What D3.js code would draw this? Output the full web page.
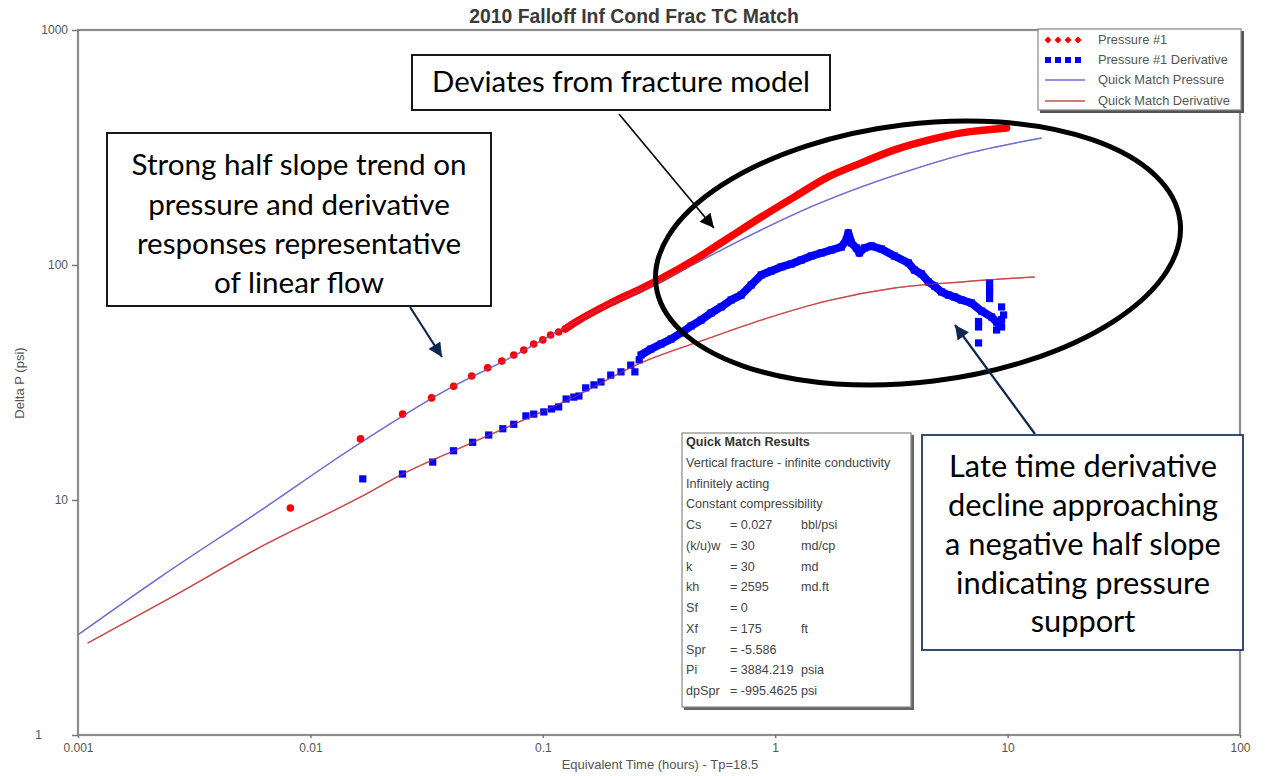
<!DOCTYPE html>
<html><head><meta charset="utf-8">
<script src="https://cdn.jsdelivr.net/npm/d3@7"></script>
<style>
html,body{margin:0;padding:0;background:#fff;}
svg{display:block;}
</style>
</head><body>
<svg id="chart" width="1267" height="776"></svg>
<script>
// ---------------- DATA ----------------
const chartTitle = "2010 Falloff Inf Cond Frac TC Match";
const xLabel = "Equivalent Time (hours) - Tp=18.5";
const yLabel = "Delta P (psi)";
const xTicks = [0.001, 0.01, 0.1, 1, 10, 100];
const xTickLabels = ["0.001", "0.01", "0.1", "1", "10", "100"];
const yTicks = [1, 10, 100, 1000];
const yTickLabels = ["1", "10", "100", "1000"];

// Pressure #1 (measured, early sparse points) [time h, dP psi]
const pressureSparse = [[0.0082,9.25],[0.01643,18.2],[0.02493,23.2],[0.03322,27.2],[0.04133,30.5],[0.04943,33.7],[0.0579,36.5],[0.0666,39.0],[0.075,41.4],[0.0828,43.5],[0.0914,46.1],[0.1,48.0],[0.108,50.4],[0.117,51.9],[0.125,53.5]];
// Pressure #1 (measured, dense late data)
const pressureDense = [[0.125,53.5],[0.14,57.5],[0.196,68.9],[0.264,79.2],[0.323,87.5],[0.448,105],[0.627,130],[0.871,160],[1.21,195],[1.69,237],[2.35,272],[3.26,309],[4.56,340],[6.34,365],[9.9,383]];

// Pressure #1 Derivative (early sparse points)
const derivSparse = [[0.0168,12.3],[0.0249,12.9],[0.0336,14.5],[0.0413,16.2],[0.0499,17.6],[0.0585,18.9],[0.0673,20.1],[0.075,21.0],[0.0846,22.8],[0.0914,23.2],[0.101,23.7],[0.109,24.4],[0.117,24.9],[0.126,26.9],[0.136,27.4],[0.143,27.7],[0.153,30.0],[0.166,30.9],[0.178,31.8],[0.196,34.0],[0.217,35.1],[0.239,37.5],[0.249,35.1],[0.26,39.5]];
// Pressure #1 Derivative (dense late data)
const derivDense = [[0.2645,41.4],[0.292,43.9],[0.3226,46.1],[0.3562,48.4],[0.3934,51.4],[0.4345,55.0],[0.4797,58.3],[0.5298,62.5],[0.585,66.3],[0.6461,71.0],[0.7135,74.5],[0.7882,82.2],[0.8703,90.7],[0.9612,94.3],[1.061,98.1],[1.172,101.0],[1.294,105.0],[1.43,109.2],[1.579,112.5],[1.743,115.8],[1.925,119.3],[2.023,127.8],[2.064,136.9],[2.126,124.1],[2.234,118.1],[2.302,112.5],[2.419,118.1],[2.594,120.5],[2.863,117.0],[3.258,109.2],[3.745,102.0],[3.973,95.2],[4.259,91.6],[4.565,84.7],[4.845,81.4],[5.194,76.8],[5.568,74.5],[5.909,73.1],[6.334,71.0],[6.995,68.9],[7.726,63.7],[8.532,60.1],[8.967,57.2],[9.421,54.5]];
// late-time scattered derivative points
const derivScatter = [[8.365,83.8],[8.365,79.5],[8.365,76.8],[8.365,72.0],[7.499,57.5],[7.499,54.5],[7.499,46.6],[9.421,66.3],[9.612,61.3],[9.421,58.5],[8.967,52.9]];

// Quick Match model curves
const qmPressure = [[0.001,2.67],[0.00226,4.70],[0.00608,9.0],[0.01387,15.7],[0.0164,17.5],[0.040,30.0],[0.075,41.0],[0.12,53.2],[0.196,68.5],[0.264,78.0],[0.323,85.5],[0.530,110],[0.871,141],[1.43,177],[2.35,215],[3.86,254],[6.34,294],[14.0,347]];
const qmDerivative = [[0.0011,2.46],[0.00267,3.98],[0.00608,6.3],[0.01644,10.3],[0.0249,12.9],[0.0413,16.2],[0.075,21.0],[0.136,27.4],[0.264,38.3],[0.494,48.0],[0.871,58.3],[1.69,70.5],[3.26,79.8],[6.34,84.7],[13.1,88.9]];

const legendLabels = ["Pressure #1", "Pressure #1 Derivative", "Quick Match Pressure", "Quick Match Derivative"];

const resultsTitle = "Quick Match Results";
const resultsHeader = ["Vertical fracture - infinite conductivity", "Infinitely acting", "Constant compressibility"];
const resultsNames = ["Cs", "(k/u)w", "k", "kh", "Sf", "Xf", "Spr", "Pi", "dpSpr"];
const resultsValues = ["= 0.027", "= 30", "= 30", "= 2595", "= 0", "= 175", "= -5.586", "= 3884.219", "= -995.4625"];
const resultsUnits = ["bbl/psi", "md/cp", "md", "md.ft", "", "ft", "", "psia", "psi"];

const note1 = ["Strong half slope trend on", "pressure and derivative", "responses representative", "of linear flow"];
const note2 = ["Deviates from fracture model"];
const note3 = ["Late time derivative", "decline approaching", "a negative half slope", "indicating pressure", "support"];

// ---------------- DRAW ----------------
const svg = d3.select("#chart");
const W = 1267, H = 776;
const plot = {l: 78, r: 1240, t: 30, b: 735};
const x = d3.scaleLog().domain([0.001, 100]).range([plot.l, plot.r]);
const y = d3.scaleLog().domain([1, 1000]).range([plot.b, plot.t]);

const cRed = "#ff0000", cBlue = "#0000ff", cQmP = "#6d6dd6", cQmD = "#cc4a4a";
const axisFont = "'Liberation Sans', Arial, sans-serif";
const noteFont = "Lato, 'Open Sans', sans-serif";

svg.append("rect").attr("width", W).attr("height", H).attr("fill", "#fff");

// fit text width helper
function fitSize(text, family, weight, target) {
  const p = svg.append("text").attr("font-family", family).attr("font-weight", weight).attr("font-size", 20).text(text);
  const w = p.node().getComputedTextLength();
  p.remove();
  return 20 * target / w;
}

// title
svg.append("text").attr("x", 634).attr("y", 23).attr("text-anchor", "middle")
  .attr("font-family", axisFont).attr("font-weight", "bold")
  .attr("font-size", fitSize(chartTitle, axisFont, "bold", 330))
  .attr("fill", "#3a3a3a").text(chartTitle);

// plot frame
svg.append("rect").attr("x", plot.l).attr("y", plot.t)
  .attr("width", plot.r - plot.l).attr("height", plot.b - plot.t)
  .attr("fill", "none").attr("stroke", "#8c8c8c").attr("stroke-width", 2.2);

// axes
const gx = svg.append("g").attr("transform", `translate(0,${plot.b})`)
  .call(d3.axisBottom(x).tickValues(xTicks).tickSize(3).tickFormat((d, i) => xTickLabels[i]));
const gy = svg.append("g").attr("transform", `translate(${plot.l},0)`)
  .call(d3.axisLeft(y).tickValues(yTicks).tickSize(6).tickFormat((d, i) => yTickLabels[i]));
[gx, gy].forEach(g => {
  g.select(".domain").remove();
  g.selectAll(".tick line").attr("stroke", "#777").attr("stroke-width", 1.5);
  g.selectAll(".tick text").attr("font-family", axisFont).attr("font-size", 12).attr("fill", "#555");
});
gx.selectAll(".tick text").attr("dy", "0.9em");
gy.selectAll(".tick text").attr("x", -10);
gy.selectAll(".tick").filter(d => d === 1).select("text").attr("x", -36);

// axis labels
svg.append("text").attr("x", 660).attr("y", 769).attr("text-anchor", "middle")
  .attr("font-family", axisFont).attr("font-size", 13).attr("fill", "#555").text(xLabel);
svg.append("text").attr("transform", "translate(24,383) rotate(-90)").attr("text-anchor", "middle")
  .attr("font-family", axisFont).attr("font-size", 13).attr("fill", "#555").text(yLabel);

const line = d3.line().x(d => x(d[0])).y(d => y(d[1]));
const smooth = d3.line().x(d => x(d[0])).y(d => y(d[1])).curve(d3.curveMonotoneX);

// Quick match curves
svg.append("path").datum(qmPressure).attr("d", smooth).attr("fill", "none")
  .attr("stroke", cQmP).attr("stroke-width", 1.4);
svg.append("path").datum(qmDerivative).attr("d", smooth).attr("fill", "none")
  .attr("stroke", cQmD).attr("stroke-width", 1.4);

// measured pressure
svg.append("path").datum(pressureDense).attr("d", smooth).attr("fill", "none")
  .attr("stroke", cRed).attr("stroke-width", 7.5).attr("stroke-linecap", "round").attr("stroke-linejoin", "round");
svg.selectAll(".pS").data(pressureSparse).join("circle")
  .attr("cx", d => x(d[0])).attr("cy", d => y(d[1])).attr("r", 3.8).attr("fill", cRed);

// measured derivative
svg.append("path").datum(derivDense).attr("d", line).attr("fill", "none")
  .attr("stroke", cBlue).attr("stroke-width", 8).attr("stroke-linejoin", "round");
svg.selectAll(".dD").data(derivDense.concat(derivSparse, derivScatter)).join("rect")
  .attr("x", d => x(d[0]) - 3.6).attr("y", d => y(d[1]) - 3.6)
  .attr("width", 7.2).attr("height", 7.2).attr("fill", cBlue);
// thin model curves shown through the data where they cross
svg.append("path").datum(qmDerivative).attr("d", smooth).attr("fill", "none")
  .attr("stroke", cQmD).attr("stroke-width", 1.1).attr("opacity", 0.55);
svg.append("path").datum(qmPressure).attr("d", smooth).attr("fill", "none")
  .attr("stroke", cQmP).attr("stroke-width", 1.1).attr("opacity", 0.5);

// legend
const lg = svg.append("g");
lg.append("rect").attr("x", 1040).attr("y", 31).attr("width", 204).attr("height", 82)
  .attr("fill", "#555");
lg.append("rect").attr("x", 1038).attr("y", 29).attr("width", 203).attr("height", 81)
  .attr("fill", "#fff").attr("stroke", "#888").attr("stroke-width", 1.2);
const lgY = [40, 60, 80, 101];
const lgFs = fitSize(legendLabels[3], axisFont, "normal", 132);
legendLabels.forEach((t, i) => {
  lg.append("text").attr("x", 1098).attr("y", lgY[i] + 4).attr("font-family", axisFont)
    .attr("font-size", lgFs).attr("fill", "#555").text(t);
});
[1048, 1058, 1068, 1078].forEach(cx => {
  lg.append("path").attr("d", `M${cx},${lgY[0]-3.5} L${cx+3.5},${lgY[0]} L${cx},${lgY[0]+3.5} L${cx-3.5},${lgY[0]} Z`).attr("fill", cRed);
  lg.append("rect").attr("x", cx - 3).attr("y", lgY[1] - 3).attr("width", 6).attr("height", 6).attr("fill", cBlue);
});
lg.append("line").attr("x1", 1045).attr("x2", 1085).attr("y1", lgY[2]).attr("y2", lgY[2]).attr("stroke", cQmP).attr("stroke-width", 1.5);
lg.append("line").attr("x1", 1045).attr("x2", 1085).attr("y1", lgY[3]).attr("y2", lgY[3]).attr("stroke", cQmD).attr("stroke-width", 1.5);

// results box
const rb = svg.append("g");
rb.append("rect").attr("x", 684).attr("y", 435).attr("width", 230).attr("height", 275).attr("fill", "#666");
rb.append("rect").attr("x", 682).attr("y", 433).attr("width", 229).attr("height", 274)
  .attr("fill", "#fff").attr("stroke", "#888").attr("stroke-width", 1.2);
const rbY0 = 446, rbDy = 20.75, rbFs = 12.6;
rb.append("text").attr("x", 686).attr("y", rbY0).attr("font-family", axisFont).attr("font-size", rbFs)
  .attr("font-weight", "bold").attr("fill", "#333").text(resultsTitle);
resultsHeader.forEach((t, i) => {
  rb.append("text").attr("x", 686).attr("y", rbY0 + rbDy * (i + 1)).attr("font-family", axisFont)
    .attr("font-size", rbFs).attr("fill", "#444").text(t);
});
resultsNames.forEach((t, i) => {
  const yy = rbY0 + rbDy * (i + 4);
  rb.append("text").attr("x", 686).attr("y", yy).attr("font-family", axisFont).attr("font-size", rbFs).attr("fill", "#444").text(t);
  rb.append("text").attr("x", 730).attr("y", yy).attr("font-family", axisFont).attr("font-size", rbFs).attr("fill", "#444").text(resultsValues[i]);
  rb.append("text").attr("x", 801).attr("y", yy).attr("font-family", axisFont).attr("font-size", rbFs).attr("fill", "#444").text(resultsUnits[i]);
});

// ellipse
svg.append("ellipse").attr("cx", 918).attr("cy", 253).attr("rx", 264).attr("ry", 129)
  .attr("transform", "rotate(-7 918 253)").attr("fill", "none").attr("stroke", "#000").attr("stroke-width", 5);

// arrow markers
const defs = svg.append("defs");
function marker(id, color) {
  defs.append("marker").attr("id", id).attr("viewBox", "0 0 10 10").attr("refX", 10).attr("refY", 5)
    .attr("markerWidth", 16).attr("markerHeight", 14).attr("markerUnits", "userSpaceOnUse")
    .attr("orient", "auto").append("path").attr("d", "M0,0 L10,5 L0,10 Z").attr("fill", color);
}
marker("arBlack", "#000");
marker("arNavy", "#0f2552");
svg.append("line").attr("x1", 619).attr("y1", 114).attr("x2", 714).attr("y2", 228)
  .attr("stroke", "#000").attr("stroke-width", 1.6).attr("marker-end", "url(#arBlack)");
svg.append("line").attr("x1", 410).attr("y1", 307).attr("x2", 442).attr("y2", 357)
  .attr("stroke", "#0f2552").attr("stroke-width", 2.2).attr("marker-end", "url(#arNavy)");
svg.append("line").attr("x1", 1035).attr("y1", 434).attr("x2", 955).attr("y2", 325)
  .attr("stroke", "#0f2552").attr("stroke-width", 2.2).attr("marker-end", "url(#arNavy)");

// annotation boxes
function note(lines, box, stroke, cx, baselines, targetW) {
  const g = svg.append("g");
  g.append("rect").attr("x", box[0]).attr("y", box[1]).attr("width", box[2] - box[0]).attr("height", box[3] - box[1])
    .attr("fill", "#fff").attr("stroke", stroke).attr("stroke-width", 1.8);
  const fs = fitSize(lines[targetW[0]], noteFont, "normal", targetW[1]);
  lines.forEach((t, i) => {
    g.append("text").attr("x", cx).attr("y", baselines[i]).attr("text-anchor", "middle")
      .attr("font-family", noteFont).attr("font-size", fs).attr("fill", "#000").text(t);
  });
}
note(note1, [107, 133, 491, 306], "#000", 299, [175, 215, 254, 293], [0, 335]);
note(note2, [412, 55, 830, 110], "#000", 621, [92], [0, 378]);
note(note3, [922, 435, 1243, 650], "#1f3864", 1083, [477, 516, 555, 594, 632], [2, 276]);
</script>
</body></html>
